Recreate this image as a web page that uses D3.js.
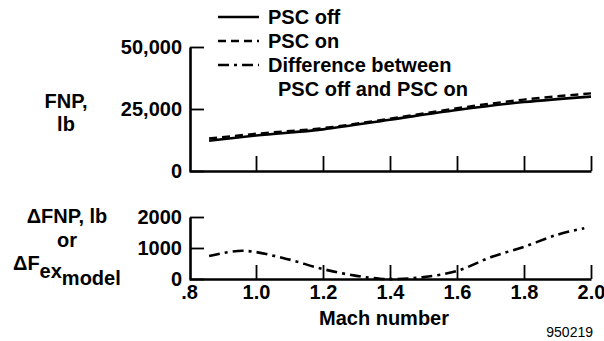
<!DOCTYPE html>
<html>
<head>
<meta charset="utf-8">
<script src="https://cdn.jsdelivr.net/npm/d3@7"></script>
<style>
  body { margin: 0; background: #fff; }
  svg { font-family: "Liberation Sans", Arial, sans-serif; font-weight: bold; }
</style>
</head>
<body>
<div id="chart"></div>
<script>
// Data

const machOff   = [0.86, 1.0, 1.2, 1.4, 1.6, 1.8, 2.0];                         // Mach number, PSC off
const fnpOff    = [12200, 14300, 16800, 20700, 24600, 27800, 30000];              // FNP, lb, PSC off
const machOn    = [0.86, 1.0, 1.2, 1.4, 1.6, 1.8, 2.0];                         // Mach number, PSC on
const fnpOn     = [13100, 15000, 17300, 21100, 25300, 28800, 31300];              // FNP, lb, PSC on
const machDiff  = [0.86, 0.96, 1.08, 1.2, 1.3, 1.37, 1.42, 1.5, 1.6, 1.7, 1.8, 1.9, 1.98];
const fnpDiff   = [740, 910, 680, 320, 100, 10, 0, 60, 260, 700, 1040, 1430, 1640];
const xTicks    = [1.0, 1.2, 1.4, 1.6, 1.8, 2.0];
const xLabels   = [".8", "1.0", "1.2", "1.4", "1.6", "1.8", "2.0"];
const topTicks  = [0, 25000, 50000];
const botTicks  = [0, 1000, 2000];
const legendText = ["PSC off", "PSC on", "Difference between", "PSC off and PSC on"];

// Canvas

const W = 604, H = 341;
const FS = 20;                                                                    // main font size
const svg = d3.select("#chart").append("svg")
    .attr("width", W)
    .attr("height", H);

// Scales

const x = d3.scaleLinear().domain([0.8, 2.0]).range([189, 591]);
const yTop = d3.scaleLinear().domain([0, 50000]).range([171, 47]);
const yBot = d3.scaleLinear().domain([0, 2000]).range([279, 217]);

const fmtTop = d => d === 0 ? "0" : d3.format(",")(d);

// Axes - ticks point inward, into the plot

function styleAxis(g) {
    g.select(".domain").attr("stroke", "#000").attr("stroke-width", 2.6);
    g.selectAll(".tick line").attr("stroke", "#000").attr("stroke-width", 1.8);
    g.selectAll("text").attr("fill", "#000").attr("font-size", FS).attr("font-weight", "bold")
        .attr("font-family", "Liberation Sans, Arial, sans-serif");
}

svg.append("g")
    .attr("transform", "translate(190,0)")
    .call(d3.axisLeft(yTop).tickValues(topTicks).tickFormat(fmtTop).tickSizeInner(-14).tickSizeOuter(0).tickPadding(8))
    .call(styleAxis);

svg.append("g")
    .attr("transform", "translate(0,171)")
    .call(d3.axisBottom(x).tickValues(xTicks).tickFormat("").tickSizeInner(-15).tickSizeOuter(0))
    .call(styleAxis);

svg.append("g")
    .attr("transform", "translate(190,0)")
    .call(d3.axisLeft(yBot).tickValues(botTicks).tickFormat(d3.format("d")).tickSizeInner(-14).tickSizeOuter(0).tickPadding(8))
    .call(styleAxis);

const xAxisBot = svg.append("g")
    .attr("transform", "translate(0,279)")
    .call(d3.axisBottom(x).tickValues([0.8].concat(xTicks)).tickFormat((d, i) => xLabels[i]).tickSizeInner(-14).tickSizeOuter(0).tickPadding(6))
    .call(styleAxis);
xAxisBot.selectAll(".tick line").filter(d => d === 0.8).remove();

// Lines

const lineTop = d3.line().x(d => x(d[0])).y(d => yTop(d[1])).curve(d3.curveMonotoneX);
const lineBot = d3.line().x(d => x(d[0])).y(d => yBot(d[1])).curve(d3.curveCatmullRom);

svg.append("path")
    .attr("d", lineTop(d3.zip(machOff, fnpOff)))
    .attr("fill", "none").attr("stroke", "#000").attr("stroke-width", 2.6);

svg.append("path")
    .attr("d", lineTop(d3.zip(machOn, fnpOn)))
    .attr("fill", "none").attr("stroke", "#000").attr("stroke-width", 2.4)
    .attr("stroke-dasharray", "8,5");

svg.append("path")
    .attr("d", lineBot(d3.zip(machDiff, fnpDiff)))
    .attr("fill", "none").attr("stroke", "#000").attr("stroke-width", 2.6)
    .attr("stroke-dasharray", "11,5,3,5");

// Legend

const dashes = [null, "8,5", "11,5,3,5"];
[17, 41, 65].forEach((yy, i) => {
    svg.append("line")
        .attr("x1", 218).attr("x2", 259).attr("y1", yy).attr("y2", yy)
        .attr("stroke", "#000").attr("stroke-width", 2.6)
        .attr("stroke-dasharray", dashes[i]);
});
[[268, 24], [268, 48], [268, 72], [278, 96]].forEach((p, i) => {
    svg.append("text").attr("x", p[0]).attr("y", p[1]).attr("font-size", FS).text(legendText[i]);
});

// Axis titles

svg.append("text").attr("x", 66).attr("y", 108).attr("font-size", FS).attr("text-anchor", "middle").text("FNP,");
svg.append("text").attr("x", 66).attr("y", 131).attr("font-size", FS).attr("text-anchor", "middle").text("lb");

svg.append("text").attr("x", 67).attr("y", 223).attr("font-size", FS).attr("text-anchor", "middle").text("\u0394FNP, lb");
svg.append("text").attr("x", 67).attr("y", 247).attr("font-size", FS).attr("text-anchor", "middle").text("or");
const fx = svg.append("text").attr("x", 13).attr("y", 270).attr("font-size", FS);
fx.append("tspan").text("\u0394F");
fx.append("tspan").attr("dy", 8).text("ex");
fx.append("tspan").attr("dy", 7).text("model");

svg.append("text").attr("x", 384).attr("y", 325).attr("font-size", FS).attr("text-anchor", "middle").text("Mach number");

svg.append("text").attr("x", 593).attr("y", 337).attr("font-size", 14).attr("font-weight", "normal")
    .attr("text-anchor", "end").text("950219");
</script>
</body>
</html>
